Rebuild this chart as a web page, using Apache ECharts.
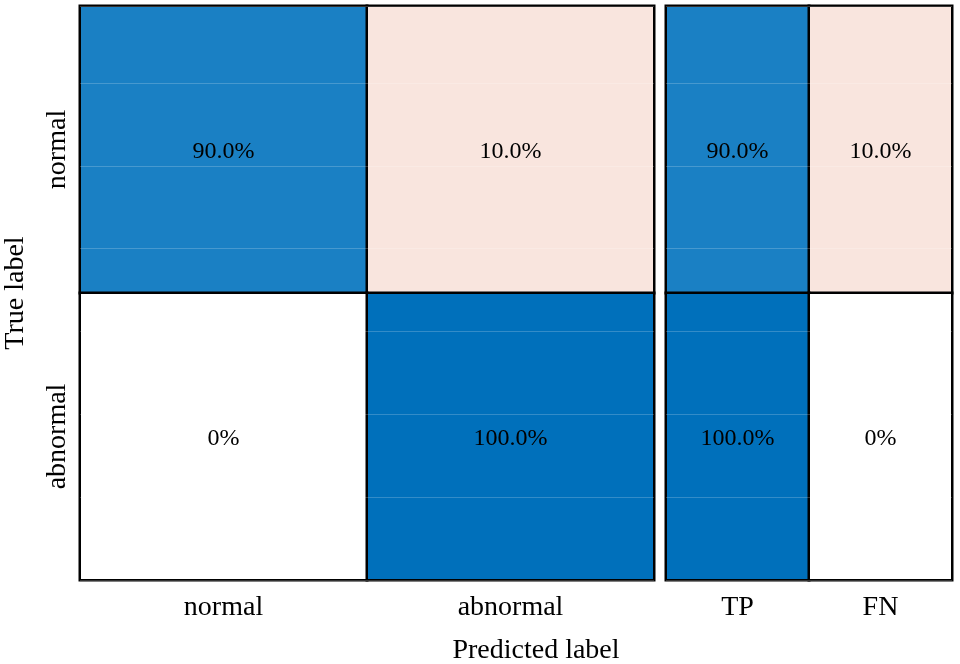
<!DOCTYPE html>
<html>
<head>
<meta charset="utf-8">
<script src="https://cdn.jsdelivr.net/npm/echarts@6/dist/echarts.min.js"></script>
<style>html,body{margin:0;padding:0;background:#fff}#c{width:960px;height:664px}</style>
</head>
<body>
<div id="c"></div>
<script>
const trueLabels = ['normal', 'abnormal'];
const predLabels = ['normal', 'abnormal'];
const rateLabels = ['TP', 'FN'];
// rows = true label, cols = predicted label (percent)
const cmValues = [[90.0, 10.0], [0, 100.0]];
// rows = true label, cols = TP / FN (percent)
const rateValues = [[90.0, 10.0], [100.0, 0]];

function toCells(rows) {
  const out = [];
  rows.forEach((row, r) => row.forEach((v, c) => out.push([c, r, v])));
  return out;
}

const FONT = 'Liberation Serif';
const chart = echarts.init(document.getElementById('c'), null, {renderer: 'canvas'});

const catAxisCommon = {
  type: 'category',
  axisTick: {show: false},
  axisLine: {show: false},
  splitLine: {show: false},
  splitArea: {show: false}
};
const faintAxis = (gi) => ({
  type: 'value', gridIndex: gi, min: 0, max: 6.93, interval: 1, position: 'right',
  axisLine: {show: false}, axisTick: {show: false}, axisLabel: {show: false},
  splitLine: {show: true, lineStyle: {color: 'rgba(255,255,255,0.2)', width: 1}},
  z: 10
});

const labelStyle = {
  show: true,
  fontFamily: FONT,
  fontSize: 24,
  color: '#000',
  offset: [0, 2],
  formatter: p => (p.value[2] === 0 ? '0%' : p.value[2].toFixed(1) + '%')
};

chart.setOption({
  animation: false,
  backgroundColor: '#fff',
  title: {
    text: 'Predicted label',
    left: 531, top: 632,
    textAlign: 'center',
    textStyle: {fontFamily: FONT, fontSize: 28, fontWeight: 'normal', color: '#000'}
  },
  grid: [
    {left: 80, top: 6, width: 574, height: 574, containLabel: false, outerBoundsMode: 'none'},
    {left: 666, top: 6, width: 286, height: 574, containLabel: false, outerBoundsMode: 'none'}
  ],
  xAxis: [
    Object.assign({}, catAxisCommon, {gridIndex: 0, data: predLabels,
      axisLabel: {fontFamily: FONT, fontSize: 28, color: '#000', margin: 14}}),
    Object.assign({}, catAxisCommon, {gridIndex: 1, data: rateLabels,
      axisLabel: {fontFamily: FONT, fontSize: 28, color: '#000', margin: 14}})
  ],
  yAxis: [
    Object.assign({}, catAxisCommon, {gridIndex: 0, data: trueLabels, inverse: true,
      name: 'True label', nameLocation: 'middle', nameGap: 50, nameRotate: 90,
      nameTextStyle: {fontFamily: FONT, fontSize: 28, color: '#000'},
      axisLabel: {fontFamily: FONT, fontSize: 28, color: '#000', rotate: 90, margin: 8}}),
    Object.assign({}, catAxisCommon, {gridIndex: 1, data: trueLabels, inverse: true,
      axisLabel: {show: false}}),
    faintAxis(0),
    faintAxis(1)
  ],
  visualMap: {
    show: false,
    type: 'piecewise',
    dimension: 2,
    seriesIndex: [0, 1],
    pieces: [
      {min: 0, max: 5, color: '#ffffff'},
      {min: 5, max: 50, color: '#f9e5de'},
      {min: 50, max: 95, color: '#1a80c4'},
      {min: 95, max: 101, color: '#0070bb'}
    ]
  },
  series: [
    {
      type: 'heatmap', xAxisIndex: 0, yAxisIndex: 0,
      data: toCells(cmValues),
      label: labelStyle,
      itemStyle: {borderColor: '#000', borderWidth: 2.5},
      emphasis: {disabled: true}
    },
    {
      type: 'heatmap', xAxisIndex: 1, yAxisIndex: 1,
      data: toCells(rateValues),
      label: labelStyle,
      itemStyle: {borderColor: '#000', borderWidth: 2.5},
      emphasis: {disabled: true}
    }
  ]
});
</script>
</body>
</html>
